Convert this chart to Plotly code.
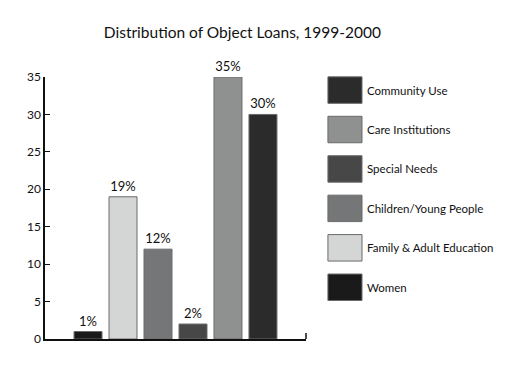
import plotly.graph_objects as go

categories = ["Women", "Family & Adult Education", "Children/Young People",
              "Special Needs", "Care Institutions", "Community Use"]
values = [1, 19, 12, 2, 35, 30]
colors = ["#1a1a1a", "#d4d6d5", "#747677", "#474747", "#8f9090", "#2b2b2b"]
y_ticks = [0, 5, 10, 15, 20, 25, 30, 35]
title = "Distribution of Object Loans, 1999-2000"

FONT = "Lato"

fig = go.Figure()
fig.add_trace(go.Bar(
    x=categories, y=values,
    marker=dict(color=colors, line=dict(color="#6a6a6a", width=1)),
    width=0.8,
    text=[f"{v}%" for v in values],
    textposition="outside",
    textfont=dict(family=FONT, size=13, color="#111"),
    cliponaxis=False,
    showlegend=False,
))

# custom legend (large swatches), reversed order
shapes = []
annotations = []
n = len(categories)
top_y = 0.950
step = 0.1505
for k, idx in enumerate(reversed(range(n))):
    yc = top_y - k * step
    shapes.append(dict(type="rect", xref="paper", yref="paper",
                       x0=1.084, x1=1.2146, y0=yc - 0.0505, y1=yc + 0.0505,
                       fillcolor=colors[idx], line=dict(color="#6a6a6a", width=1)))
    annotations.append(dict(xref="paper", yref="paper", x=1.227, y=yc,
                            text=categories[idx], showarrow=False,
                            xanchor="left", yanchor="middle",
                            font=dict(family=FONT, size=11.5, color="#111")))

# small end tick at right of x axis
shapes.append(dict(type="line", xref="paper", yref="paper",
                   x0=1, x1=1, y0=0, y1=0.023, line=dict(color="#111", width=1.5)))

fig.update_layout(
    width=501, height=358,
    margin=dict(l=37, r=203, t=69, b=27),
    paper_bgcolor="white", plot_bgcolor="white",
    title=dict(text=title, x=0.468, xanchor="center", y=0.93, yanchor="middle",
               font=dict(family=FONT, size=15.5, color="#111")),
    xaxis=dict(range=[-1.23, n - 1 + 1.23], showticklabels=False, ticks="",
               showline=True, linecolor="#111", linewidth=1.5, showgrid=False,
               zeroline=False, fixedrange=True),
    yaxis=dict(range=[0, 35], tickvals=y_ticks, ticks="inside", ticklen=5,
               tickcolor="#111", showline=True, linecolor="#111", linewidth=1.5,
               showgrid=False, zeroline=False,
               tickfont=dict(family=FONT, size=12, color="#111")),
    shapes=shapes, annotations=annotations,
    font=dict(family=FONT),
)

fig.write_html("out.html")
